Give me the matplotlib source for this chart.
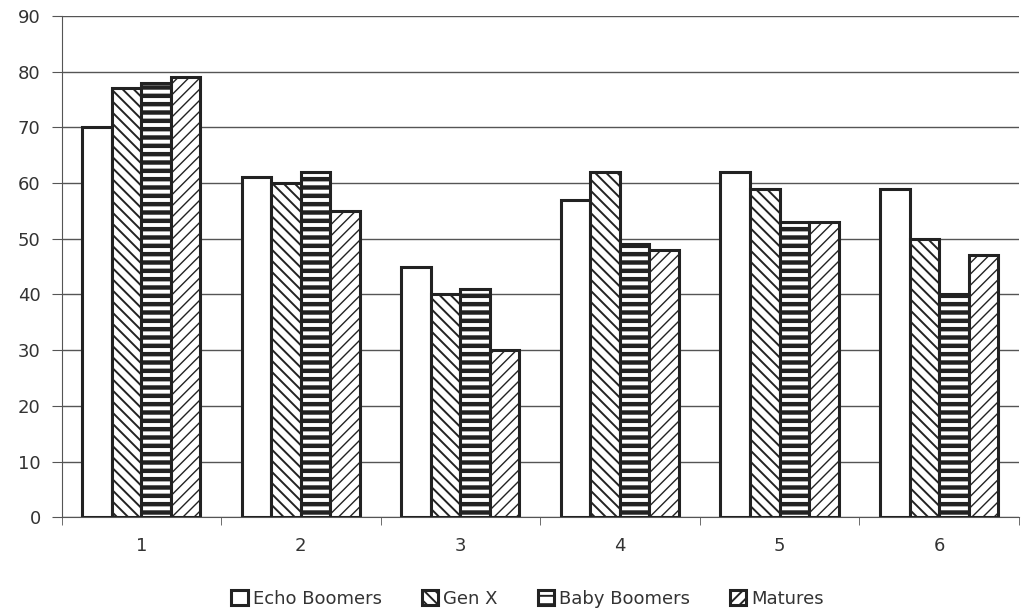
import matplotlib
matplotlib.use("Agg")
import matplotlib.pyplot as plt
import numpy as np

categories = ["1", "2", "3", "4", "5", "6"]
series_names = ["Echo Boomers", "Gen X", "Baby Boomers", "Matures"]
echo_boomers = [70, 61, 45, 57, 62, 59]
gen_x = [77, 60, 40, 62, 59, 50]
baby_boomers = [78, 62, 41, 49, 53, 40]
matures = [79, 55, 30, 48, 53, 47]
y_ticks = [0, 10, 20, 30, 40, 50, 60, 70, 80, 90]

series = [echo_boomers, gen_x, baby_boomers, matures]
hatches = ["", "\\\\\\", "--", "///"]
hatch_lws = [1.0, 1.4, 3.2, 1.0]

plt.rcParams["hatch.linewidth"] = 1.4
fig = plt.figure(figsize=(10.25, 6.15), dpi=100)
ax = fig.add_axes([0.06, 0.159, 0.934, 0.815])

x = np.arange(len(categories))
bw = 0.185
for i, (vals, h) in enumerate(zip(series, hatches)):
    bars = ax.bar(x + (i - 1.5) * bw, vals, bw, facecolor="white", edgecolor="#222222",
                  hatch=h, linewidth=2.2, label=series_names[i], zorder=3)
    for b in bars:
        try:
            b.set_hatch_linewidth(hatch_lws[i])
        except Exception:
            pass

ax.set_xlim(-0.5, len(categories) - 0.5)
ax.set_ylim(0, 90)
ax.set_yticks(y_ticks)
ax.yaxis.grid(True, color="#555555", linewidth=1.0, zorder=0)
ax.set_xticks(x)
ax.set_xticklabels(categories)
ax.set_xticks(np.arange(-0.5, len(categories)), minor=True)
ax.tick_params(axis="x", which="major", length=0, pad=14, labelsize=13, colors="#333333")
ax.tick_params(axis="x", which="minor", length=6, color="#555555")
ax.tick_params(axis="y", length=7, color="#555555", labelsize=13, labelcolor="#333333", pad=8)
for s in ["top", "right"]:
    ax.spines[s].set_visible(False)
ax.spines["left"].set_color("#555555")
ax.spines["bottom"].set_color("#555555")

leg = fig.legend(loc="lower center", bbox_to_anchor=(0.515, -0.015), ncol=4, frameon=False,
                 fontsize=13, handlelength=0.9, handleheight=0.9, handletextpad=0.3,
                 columnspacing=2.2, labelcolor="#333333")
fig.savefig("out.png", dpi=100)
